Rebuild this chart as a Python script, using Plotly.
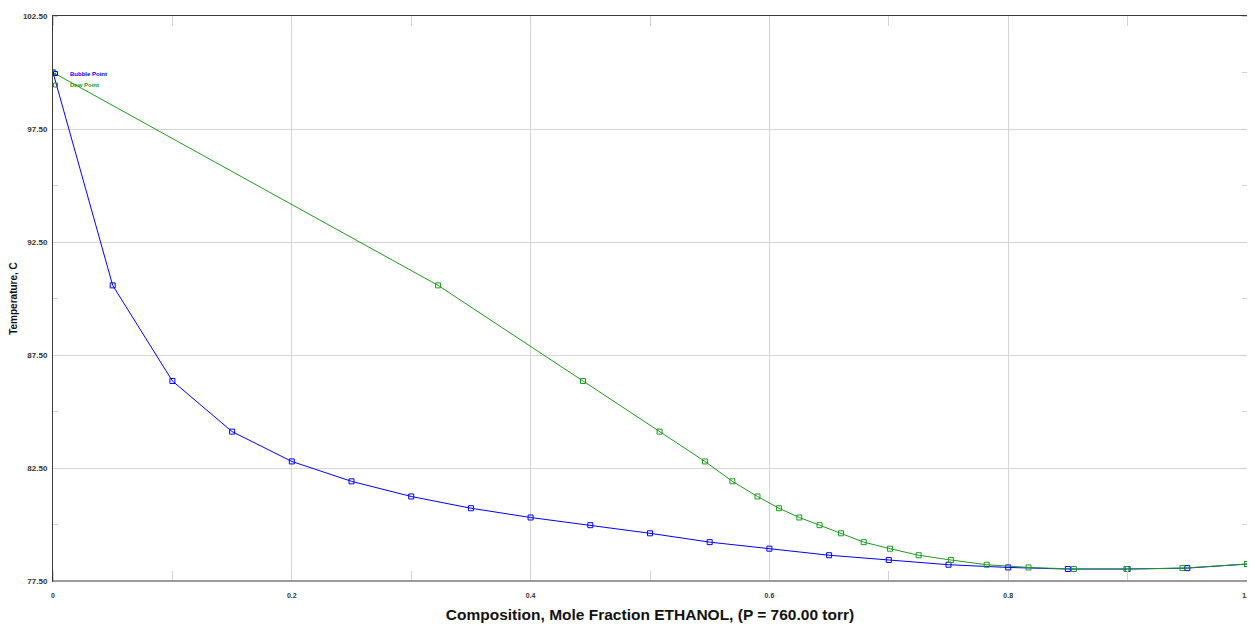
import plotly.graph_objects as go

# Bubble point curve: liquid mole fraction of ethanol vs temperature
bubble_x = [0.0, 0.05, 0.10, 0.15, 0.20, 0.25, 0.30, 0.35, 0.40, 0.45, 0.50,
            0.55, 0.60, 0.65, 0.70, 0.75, 0.80, 0.85, 0.90, 0.95, 1.00]
bubble_T = [100.0, 90.58, 86.35, 84.11, 82.79, 81.91, 81.24, 80.72, 80.31, 79.97, 79.61,
            79.22, 78.93, 78.64, 78.43, 78.22, 78.10, 78.03, 78.03, 78.07, 78.25]

# Dew point curve: vapour mole fraction of ethanol vs temperature
dew_x = [0.0, 0.3225, 0.4439, 0.508, 0.546, 0.569, 0.590, 0.608, 0.625, 0.642, 0.660,
         0.679, 0.701, 0.725, 0.752, 0.782, 0.817, 0.855, 0.899, 0.946, 1.0]
dew_T = bubble_T

y_ticks = [77.5, 82.5, 87.5, 92.5, 97.5, 102.5]
y_ticktext = ["%.2f" % v for v in y_ticks]
x_ticks = [0.0, 0.2, 0.4, 0.6, 0.8, 1.0]
x_ticktext = ["0", "0.2", "0.4", "0.6", "0.8", "1.0"]

BLUE = "#0000ff"
GREEN = "#1e9a1e"
FONT = "Liberation Sans, Arial, sans-serif"

fig = go.Figure()
fig.add_trace(go.Scatter(
    x=bubble_x, y=bubble_T, mode="lines+markers", name="Bubble Point",
    line=dict(color=BLUE, width=1),
    marker=dict(symbol="square-open", size=5, color=BLUE, line=dict(width=1)),
))
fig.add_trace(go.Scatter(
    x=dew_x, y=dew_T, mode="lines+markers", name="Dew Point",
    line=dict(color=GREEN, width=1),
    marker=dict(symbol="square-open", size=5, color=GREEN, line=dict(width=1)),
))

# page body has an 8px margin: figure pixel = screenshot pixel - 8
OFF = 8
W, H = 1255 - OFF, 626 - OFF
L, T = 53 - OFF, 16 - OFF
R = W - (1247 - OFF)
B = H - (581 - OFF)
pw, ph = W - L - R, H - T - B

def px_x(px):
    return (px - OFF - L) / pw

def px_y(py):
    return (H - B - (py - OFF)) / ph

# legend drawn as annotations + small squares
legend_items = [("Bubble Point", BLUE, 73.5), ("Dew Point", GREEN, 85)]
shapes = []
annotations = []
for label, col, py in legend_items:
    annotations.append(dict(
        x=px_x(67.5), y=px_y(py), xref="paper", yref="paper", xanchor="left", yanchor="middle",
        align="left",
        text="<b>%s</b>" % label, showarrow=False, font=dict(family=FONT, size=6, color=col),
    ))
    shapes.append(dict(
        type="rect", xref="paper", yref="paper", xsizemode="pixel", ysizemode="pixel",
        xanchor=px_x(55.5), yanchor=px_y(py), x0=-2, x1=2, y0=-2, y1=2,
        line=dict(color=col, width=1), fillcolor="rgba(0,0,0,0)",
    ))

# bottom axis line (gray, thicker)
shapes.append(dict(type="line", xref="paper", yref="paper", x0=0, x1=1, y0=0, y1=0,
                   line=dict(color="#9a9a9a", width=2), layer="above"))

fig.update_layout(
    width=W, height=H,
    margin=dict(l=L, r=R, t=T, b=B, pad=0),
    paper_bgcolor="white", plot_bgcolor="white",
    showlegend=False,
    font=dict(family=FONT, color="#222"),
    shapes=shapes, annotations=annotations,
    xaxis=dict(
        range=[0, 1], tickvals=x_ticks, ticktext=x_ticktext,
        showgrid=True, gridcolor="#d4d4d4", gridwidth=1, zeroline=False,
        showline=True, linecolor="#3a3a3a", linewidth=1, mirror="ticks",
        ticks="", tickfont=dict(family=FONT, size=7, color="#333", weight="bold"),
        ticklabelstandoff=8, ticklabeloverflow="allow",
        minor=dict(dtick=0.1, tick0=0, ticks="inside", ticklen=10, tickcolor="#d0d0d0",
                   tickwidth=1, showgrid=False),
        title=dict(text="Composition, Mole Fraction ETHANOL, (P = 760.00 torr)",
                   font=dict(family=FONT, size=15.5, color="#111", weight="bold"), standoff=10),
        automargin=False,
    ),
    yaxis=dict(
        range=[77.5, 102.5], tickvals=y_ticks, ticktext=y_ticktext,
        showgrid=True, gridcolor="#d4d4d4", gridwidth=1, zeroline=False,
        showline=True, linecolor="#3a3a3a", linewidth=1, mirror="ticks",
        ticks="", tickfont=dict(family=FONT, size=8, color="#333", weight="bold"),
        ticklabelstandoff=3, ticklabeloverflow="allow",
        minor=dict(dtick=2.5, tick0=77.5, ticks="inside", ticklen=5, tickcolor="#d0d0d0",
                   tickwidth=1, showgrid=False),
        title=dict(text="Temperature, C",
                   font=dict(family=FONT, size=10, color="#111", weight="bold"), standoff=4),
        automargin=False,
    ),
)

fig.write_html("out.html", post_script="document.documentElement.style.overflow='hidden';document.body.style.overflow='hidden';")
